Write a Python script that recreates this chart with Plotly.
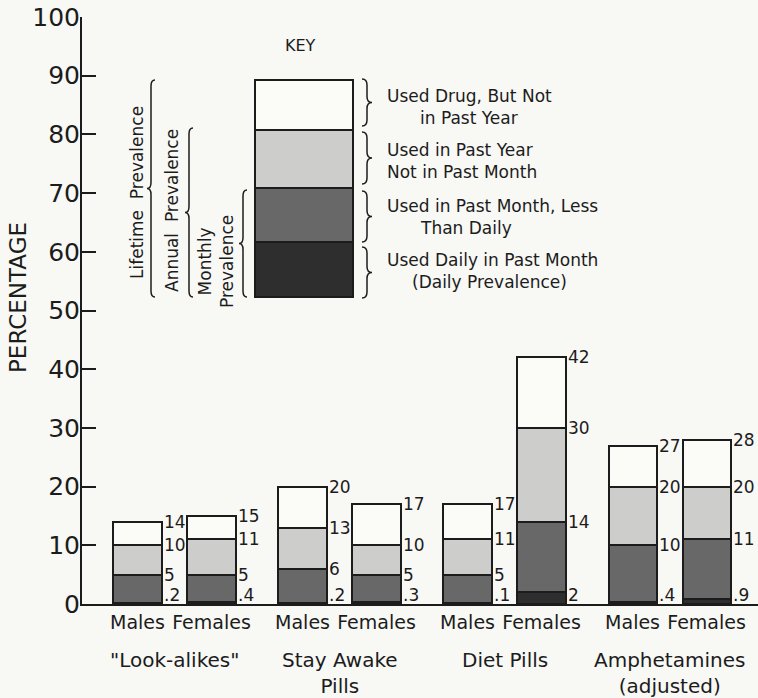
import plotly.graph_objects as go

# ---------------- data ----------------
groups = ['"Look-alikes"', "Stay Awake<br>Pills", "Diet Pills", "Amphetamines<br>(adjusted)"]
sexes = ["Males", "Females"]
lifetime = [14, 15, 20, 17, 17, 42, 27, 28]
annual = [10, 11, 13, 10, 11, 30, 20, 20]
monthly = [5, 5, 6, 5, 5, 14, 10, 11]
daily = [0.2, 0.4, 0.2, 0.3, 0.1, 2, 0.4, 0.9]
y_ticks = list(range(0, 101, 10))

seg_names = ["Used Daily in Past Month", "Used in Past Month, Less Than Daily",
             "Used in Past Year Not in Past Month", "Used Drug, But Not in Past Year"]

# ---------------- style ----------------
W, H = 758, 698
ML, MR, MT, MB = 82, 0, 17, 94
PW, PH = W - ML - MR, H - MT - MB
BG = "#f8f8f5"
INK = "#1c1c1c"
FONT = "DejaVu Sans"
COLORS = ["#2e2e2e", "#686868", "#cdcdcb", "#fbfbf8"]
GROUP_STEP = 2.23
BAR_W = 0.65
XMIN = -0.75
XMAX = XMIN + PW / 74.0


def px(x, y):
    """pixel -> paper coordinates"""
    return (x - ML) / PW, (H - MB - y) / PH


xpos = [g * GROUP_STEP + s for g in range(len(groups)) for s in range(len(sexes))]
ticktext = [s for _ in groups for s in sexes]

segs = [
    daily,
    [m - d for m, d in zip(monthly, daily)],
    [a - m for a, m in zip(annual, monthly)],
    [l - a for l, a in zip(lifetime, annual)],
]

fig = go.Figure()
for name, vals, col in zip(seg_names, segs, COLORS):
    fig.add_trace(go.Bar(
        x=xpos, y=vals, width=BAR_W, name=name,
        marker=dict(color=col, line=dict(color=INK, width=2)),
        showlegend=False, hoverinfo="skip",
    ))

ann = []


def fmt(v):
    s = f"{v:g}"
    return s[1:] if s.startswith("0.") else s


# value labels
for i, xp in enumerate(xpos):
    for v in (lifetime[i], annual[i], monthly[i]):
        ann.append(dict(x=xp + BAR_W / 2, y=v, xref="x", yref="y", text=fmt(v),
                        xanchor="left", yanchor="middle", showarrow=False, xshift=0,
                        font=dict(size=17, color=INK, family=FONT)))
    ann.append(dict(x=xp + BAR_W / 2, y=0, xref="x", yref="y", text=fmt(daily[i]),
                    xanchor="left", yanchor="bottom", showarrow=False, xshift=0, yshift=-3,
                    font=dict(size=17, color=INK, family=FONT)))

# group labels
for g, name in enumerate(groups):
    cx = g * GROUP_STEP + 0.5
    ann.append(dict(x=cx, y=0, xref="x", yref="paper", text=name, xanchor="center",
                    yanchor="top", yshift=-42, showarrow=False, align="center",
                    font=dict(size=20, color=INK, family=FONT)))

# y axis title
tx, ty = px(18, 298)
ann.append(dict(x=tx, y=ty, xref="paper", yref="paper", text="PERCENTAGE", textangle=-90,
                showarrow=False, xanchor="center", yanchor="middle",
                font=dict(size=23, color=INK, family=FONT)))

# ---------------- key ----------------
shapes = []
key_px = [297, 242, 188, 130, 80]  # bottom -> top boundaries (pixel rows)
kx0, _ = px(255, 0)
kx1, _ = px(353, 0)
for j in range(4):
    _, y0 = px(0, key_px[j])
    _, y1 = px(0, key_px[j + 1])
    shapes.append(dict(type="rect", xref="paper", yref="paper", x0=kx0, x1=kx1, y0=y0, y1=y1,
                       fillcolor=COLORS[j], line=dict(color=INK, width=2), layer="above"))

kx, ky = px(300, 45)
ann.append(dict(x=kx, y=ky, xref="paper", yref="paper", text="KEY", showarrow=False,
                xanchor="center", yanchor="middle",
                font=dict(size=16, color=INK, family=FONT)))


def brace(x, y0, y1, w, r=6):
    ym = (y0 + y1) / 2
    h = x + w / 2
    pts = [("M", [(x, y0)]),
           ("Q", [(h, y0), (h, y0 + r)]),
           ("L", [(h, ym - r)]),
           ("Q", [(h, ym), (x + w, ym)]),
           ("Q", [(h, ym), (h, ym + r)]),
           ("L", [(h, y1 - r)]),
           ("Q", [(h, y1), (x, y1)])]
    out = []
    for cmd, ps in pts:
        coords = []
        for (a, b) in ps:
            pa, pb = px(a, b)
            coords.append(f"{pa:.5f},{pb:.5f}")
        out.append(cmd + " " + " ".join(coords))
    return dict(type="path", xref="paper", yref="paper", path=" ".join(out),
                line=dict(color=INK, width=1.5), layer="above")


# right braces
for (y0, y1) in [(79, 126), (132, 184), (191, 242), (247, 298)]:
    shapes.append(brace(362, y0, y1, 10))
# left braces
shapes.append(brace(155, 80, 297, -8))
shapes.append(brace(193, 128, 297, -8))
shapes.append(brace(247, 190, 297, -8))

key_lines = [("Used Drug, But Not", 385, 96), ("in Past Year", 418, 118),
             ("Used in Past Year", 385, 150), ("Not in Past Month", 385, 172),
             ("Used in Past Month, Less", 385, 206), ("Than Daily", 418, 228),
             ("Used Daily in Past Month", 385, 260), ("(Daily Prevalence)", 410, 282)]
for t, x, y in key_lines:
    a, b = px(x, y)
    ann.append(dict(x=a, y=b, xref="paper", yref="paper", text=t, showarrow=False,
                    xanchor="left", yanchor="middle", font=dict(size=17, color=INK, family=FONT)))

for t, x, y in [("Lifetime  Prevalence", 137, 193), ("Annual  Prevalence", 172, 211),
                ("Monthly<br>Prevalence", 216, 262)]:
    a, b = px(x, y)
    ann.append(dict(x=a, y=b, xref="paper", yref="paper", text=t, showarrow=False, textangle=-90,
                    xanchor="center", yanchor="middle", align="center",
                    font=dict(size=17, color=INK, family=FONT)))

fig.update_layout(
    width=W, height=H, margin=dict(l=ML, r=MR, t=MT, b=MB),
    barmode="stack", paper_bgcolor=BG, plot_bgcolor=BG,
    font=dict(family=FONT, color=INK),
    annotations=ann, shapes=shapes,
    xaxis=dict(range=[XMIN, XMAX], tickvals=xpos, ticktext=ticktext, ticks="",
               showline=True, linecolor=INK, linewidth=2, showgrid=False, zeroline=False,
               tickfont=dict(size=19, color=INK, family=FONT), fixedrange=True),
    yaxis=dict(range=[0, 100], tickvals=y_ticks, ticks="inside", ticklen=14, tickwidth=2,
               tickcolor=INK, showline=True, linecolor=INK, linewidth=2, showgrid=False,
               zeroline=False, ticklabelstandoff=-5,
               tickfont=dict(size=25, color=INK, family=FONT), fixedrange=True),
)

fig.write_html("out.html", post_script="document.body.style.margin='0';document.body.style.background='%s';" % BG,
               config={"displayModeBar": False})
